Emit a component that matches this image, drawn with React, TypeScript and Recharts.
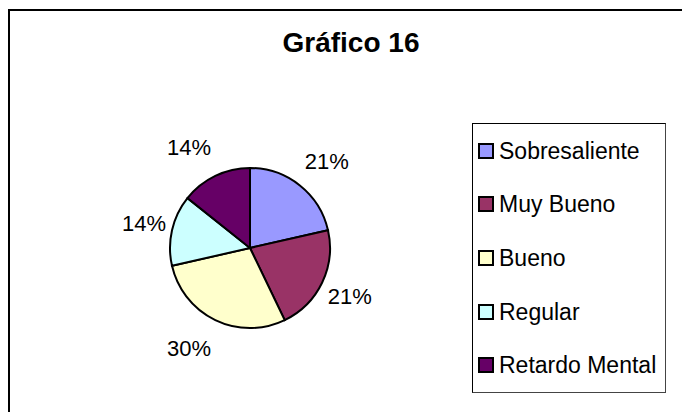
import React from 'react';
import { PieChart, Pie, Cell, Legend } from 'recharts';

// slice sizes (3/14, 3/14, 4/14, 2/14, 2/14)
const categories = ['Sobresaliente', 'Muy Bueno', 'Bueno', 'Regular', 'Retardo Mental'];
const counts = [3, 3, 4, 2, 2];
const percentLabels = ['21%', '21%', '30%', '14%', '14%'];
const colors = ['#9999FF', '#993366', '#FFFFCC', '#CCFFFF', '#660066'];

const data = categories.map((name, i) => ({ name, value: counts[i], label: percentLabels[i] }));

const FONT = '"Liberation Sans", Arial, sans-serif';
const RADIAN = Math.PI / 180;

// excel-style outside labels: text box sits beside the edge point, left or right of it
function renderLabel(props: any) {
  const { cx, cy, midAngle, outerRadius, index } = props;
  const dx = Math.cos(-midAngle * RADIAN);
  const dy = Math.sin(-midAngle * RADIAN);
  const right = dx >= 0;
  const x = cx + dx * (outerRadius + 3) + (right ? 3 : -3);
  const y = cy + dy * (outerRadius + 31);
  return (
    <text
      x={x}
      y={y}
      fill="#000"
      textAnchor={right ? 'start' : 'end'}
      dominantBaseline="central"
      fontFamily={FONT}
      fontSize={22}
    >
      {percentLabels[index]}
    </text>
  );
}

function LegendBox() {
  return (
    <div
      style={{
        boxSizing: 'border-box',
        width: 194,
        height: 270,
        border: '1px solid #000',
        borderRightColor: '#444',
        borderBottomColor: '#444',
        background: '#fff',
        display: 'flex',
        flexDirection: 'column',
        justifyContent: 'space-around',
        fontFamily: FONT,
        fontSize: 23,
        color: '#000',
      }}
    >
      {categories.map((name, i) => (
        <div key={name} style={{ display: 'flex', alignItems: 'center', paddingLeft: 5 }}>
          <span
            style={{
              boxSizing: 'border-box',
              width: 16,
              height: 16,
              background: colors[i],
              border: '2px solid #000',
              marginRight: 5,
            }}
          />
          <span style={{ whiteSpace: 'nowrap', lineHeight: '24px' }}>{name}</span>
        </div>
      ))}
    </div>
  );
}

export default function App() {
  return (
    <div
      style={{
        position: 'fixed',
        left: 0,
        top: 0,
        width: 682,
        height: 412,
        overflow: 'hidden',
        background: '#fff',
      }}
    >
      <div
        style={{
          position: 'absolute',
          left: 8,
          top: 9,
          width: 700,
          height: 420,
          borderLeft: '2px solid #000',
          borderTop: '2px solid #000',
        }}
      />
      <div
        style={{
          position: 'absolute',
          left: 0,
          width: 702,
          top: 29,
          lineHeight: '28px',
          textAlign: 'center',
          fontFamily: FONT,
          fontWeight: 'bold',
          fontSize: 28,
          color: '#000',
        }}
      >
        Gráfico 16
      </div>
      <div style={{ position: 'absolute', left: 0, top: 0 }}>
        <PieChart width={682} height={412} margin={{ top: 0, right: 0, bottom: 0, left: 0 }}>
          <Pie
            data={data}
            dataKey="value"
            nameKey="name"
            cx={250}
            cy={248}
            outerRadius={80}
            startAngle={90}
            endAngle={-270}
            stroke="#000"
            strokeWidth={2}
            label={renderLabel}
            labelLine={false}
            isAnimationActive={false}
          >
            {data.map((d, i) => (
              <Cell key={d.name} fill={colors[i]} />
            ))}
          </Pie>
          <Legend
            content={() => <LegendBox />}
            wrapperStyle={{ left: 472, top: 123, width: 194, height: 270 }}
          />
        </PieChart>
      </div>
    </div>
  );
}
